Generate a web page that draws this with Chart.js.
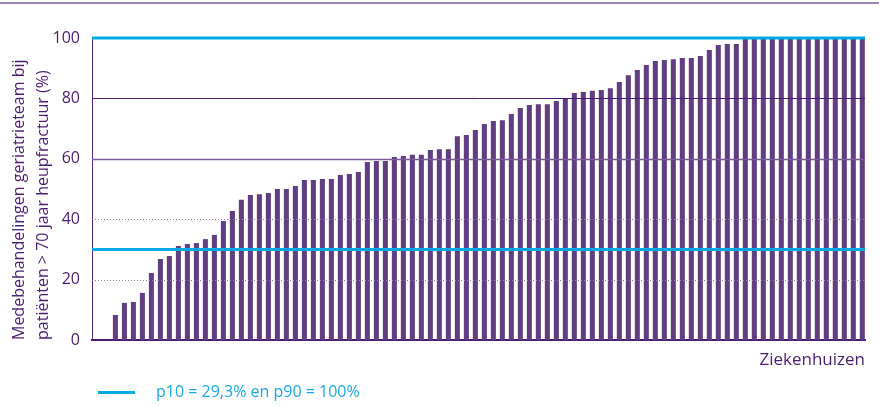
<!DOCTYPE html>
<html>
<head>
<meta charset="utf-8">
<script src="https://cdn.jsdelivr.net/npm/chart.js@4.4.1/dist/chart.umd.min.js"></script>
<style>
  html, body { margin: 0; padding: 0; background: #fff; }
  #wrap { position: relative; width: 879px; height: 406px; overflow: hidden; }
  #topline { position: absolute; left: 0; top: 2px; width: 879px; height: 2px; background: #9c86b2; }
  #legend { position: absolute; left: 98px; top: 380px; font: 16px 'Open Sans', sans-serif; color: #1aa9e1; }
  #legend .swatch { position: absolute; left: 0; top: 11px; width: 37px; height: 3px; background: #00a9e3; }
  #legend .txt { position: absolute; left: 58px; top: 0; white-space: nowrap; }
</style>
</head>
<body>
<div id="wrap">
  <div id="topline"></div>
  <canvas id="chart" width="879" height="406"></canvas>
  <div id="legend"><span class="swatch"></span><span class="txt">p10 = 29,3% en p90 = 100%</span></div>
</div>
<script>
// percentage per hospital, sorted low -> high
const values = [
  8.3, 12.3, 12.6, 15.6, 22.2, 26.8, 27.8, 31.1, 31.8, 32.1,
  33.4, 34.8, 39.4, 42.7, 46.4, 48.0, 48.3, 48.7, 50.0, 50.0,
  51.0, 53.0, 53.0, 53.3, 53.3, 54.6, 55.0, 55.6, 58.9, 59.3,
  59.3, 60.6, 60.9, 61.3, 61.3, 62.9, 63.2, 63.2, 67.5, 67.9,
  69.5, 71.5, 72.5, 72.8, 74.8, 76.8, 77.8, 78.1, 78.1, 79.1,
  80.1, 81.8, 82.1, 82.5, 82.8, 83.4, 85.4, 87.7, 89.4, 91.1,
  92.4, 92.7, 93.0, 93.4, 93.4, 94.0, 96.0, 97.7, 98.0, 98.0,
  100, 100, 100, 100, 100, 100, 100, 100, 100, 100,
  100, 100, 100, 100
];
const hospitals = values.map((v, i) => i + 1);
const yTicks = [0, 20, 40, 60, 80, 100];
const solidGrid = [60, 80];
const dottedGrid = [20, 40];
const percentileLines = [30, 100]; // p10 and p90 as drawn
const yTitle = ['Medebehandelingen geriatrieteam bij', 'patiënten > 70 jaar heupfractuur (%)'];
const xTitle = 'Ziekenhuizen';

const purple = '#4b1d70';
const barPurple = '#613d81';
const cyan = '#00a9e3';

// horizontal lines drawn on top of the bars
const refLines = {
  id: 'refLines',
  afterDatasetsDraw(chart) {
    const ctx = chart.ctx;
    const area = chart.chartArea;
    const y = chart.scales.y;
    ctx.save();
    dottedGrid.forEach(v => {
      const py = Math.round(y.getPixelForValue(v)) + 0.5;
      ctx.strokeStyle = '#8e7aa3';
      ctx.lineWidth = 1;
      ctx.setLineDash([1, 2]);
      ctx.beginPath();
      ctx.moveTo(area.left, py);
      ctx.lineTo(area.right, py);
      ctx.stroke();
    });
    ctx.setLineDash([]);
    solidGrid.forEach(v => {
      const py = Math.round(y.getPixelForValue(v)) + 0.5;
      ctx.strokeStyle = v === 60 ? '#7a5a98' : purple;
      ctx.lineWidth = v === 60 ? 1.5 : 1;
      ctx.beginPath();
      ctx.moveTo(area.left, py);
      ctx.lineTo(area.right, py);
      ctx.stroke();
    });
    percentileLines.forEach(v => {
      const py = y.getPixelForValue(v);
      ctx.strokeStyle = cyan;
      ctx.lineWidth = 3;
      ctx.beginPath();
      ctx.moveTo(area.left, py);
      ctx.lineTo(area.right, py);
      ctx.stroke();
    });
    ctx.restore();
  }
};

new Chart(document.getElementById('chart'), {
  type: 'bar',
  data: {
    labels: hospitals,
    datasets: [{
      data: values,
      backgroundColor: barPurple,
      borderWidth: 0,
      categoryPercentage: 1,
      barPercentage: 0.56
    }]
  },
  plugins: [refLines],
  options: {
    responsive: false,
    animation: false,
    layout: { padding: { left: 0, right: 14, top: 38, bottom: 36 } },
    plugins: { legend: { display: false }, tooltip: { enabled: false } },
    scales: {
      x: {
        type: 'linear',
        offset: false,
        min: -1.6,
        max: 84.3,
        grid: { display: false, drawTicks: false },
        ticks: { display: false },
        border: { display: true, color: purple, width: 2 },
        title: {
          display: true,
          text: xTitle,
          align: 'end',
          color: purple,
          font: { family: "'Open Sans', sans-serif", size: 17 },
          padding: { top: 0, bottom: 0 }
        },
        afterFit(scale) { scale.height = 30; }
      },
      y: {
        min: 0,
        max: 100,
        afterBuildTicks(scale) { scale.ticks = yTicks.map(v => ({ value: v })); },
        grid: { display: false, drawTicks: false },
        border: { display: true, color: '#5a2a82', width: 1 },
        ticks: {
          color: purple,
          padding: 12,
          font: { family: "'Open Sans', sans-serif", size: 16 }
        },
        title: {
          display: true,
          text: yTitle,
          align: 'start',
          color: purple,
          font: { family: "'Open Sans', sans-serif", size: 16, lineHeight: '24px' },
          padding: { top: 7, bottom: 0 }
        },
        afterFit(scale) { scale.width = 92; }
      }
    }
  }
});
</script>
</body>
</html>
